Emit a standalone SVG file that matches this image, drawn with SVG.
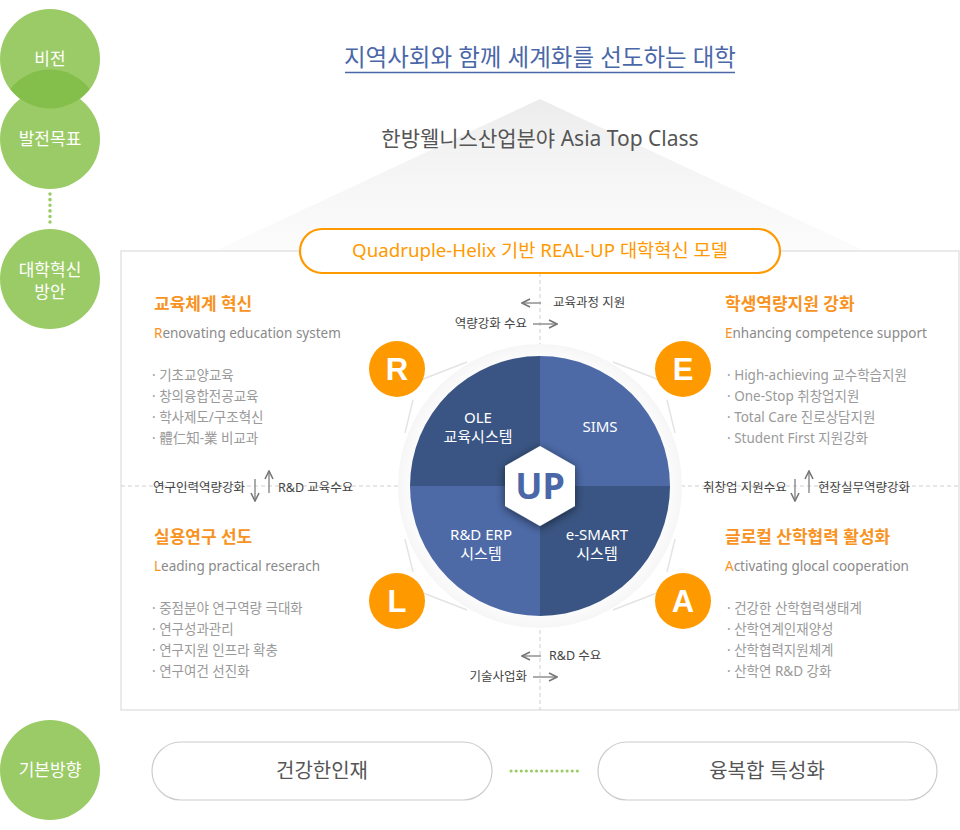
<svg xmlns="http://www.w3.org/2000/svg" width="960" height="830" viewBox="0 0 960 830">
<defs>
<linearGradient id="tri" x1="0" y1="0" x2="0" y2="1">
<stop offset="0" stop-color="#ececec"/>
<stop offset="1" stop-color="#f8f8f8" stop-opacity="0.5"/>
</linearGradient>
<radialGradient id="halo" cx="0.5" cy="0.5" r="0.5">
<stop offset="0.85" stop-color="#ffffff"/>
<stop offset="1" stop-color="#f6f6f6"/>
</radialGradient>
<filter id="sh" x="-50%" y="-50%" width="200%" height="200%">
<feDropShadow dx="0" dy="2" stdDeviation="5" flood-color="#000" flood-opacity="0.55"/>
</filter>
<marker id="ah" viewBox="0 0 10 10" refX="9" refY="5" markerWidth="10" markerHeight="10" markerUnits="userSpaceOnUse" orient="auto">
<path d="M1,1 L9,5 L1,9" fill="none" stroke="#777" stroke-width="1.6"/>
</marker>
</defs>
<style>
text{font-family:"Noto Sans","Noto Sans CJK KR",sans-serif;}
.gc{fill:#9bcb66;}
.gt{fill:#fff;font-size:17px;text-anchor:middle;}
.hd{fill:#f7931e;font-size:17px;font-weight:bold;}
.en{fill:#8a8a8a;font-size:13.5px;}
.or{fill:#f7931e;}
.bl{fill:#9a9a9a;font-size:13.5px;}
.lb{fill:#444;font-size:12.5px;}
.arr{stroke:#888;stroke-width:1.4;fill:none;marker-end:url(#ah);}
.dash{stroke:#cfcfcf;stroke-width:1;stroke-dasharray:4 3;fill:none;}
.qt{fill:#fff;font-size:15px;text-anchor:middle;}
.oc{fill:#ff9900;}
.ol{fill:#fff;font-size:31px;font-weight:bold;text-anchor:middle;font-family:"Liberation Sans","Noto Sans",sans-serif;}
.brk{stroke:#e4e4e4;stroke-width:1.5;fill:none;}
.pill{fill:#fff;stroke:#cccccc;stroke-width:1.2;}
.pt{fill:#555;font-size:20px;text-anchor:middle;}
</style>

<!-- background triangle -->
<polygon points="540,99 215,251 865,251" fill="url(#tri)"/>

<!-- left level circles -->
<g id="level-vision">
<circle class="gc" cx="50" cy="59" r="50"/>
</g>
<g id="level-goal">
<circle class="gc" cx="50" cy="139" r="50"/>
</g>
<path d="M10.4,89 A50,50 0 0 1 89.6,89 A50,50 0 0 1 10.4,89 Z" fill="#85bf4b"/>
<text class="gt" x="50" y="65">비전</text>
<text class="gt" x="50" y="145">발전목표</text>
<line x1="50" y1="194" x2="50" y2="225" stroke="#9bcb66" stroke-width="3.5" stroke-linecap="round" stroke-dasharray="0.1 5.5"/>
<g id="level-plan">
<circle class="gc" cx="50" cy="279" r="50"/>
<text class="gt" x="50" y="276">대학혁신</text>
<text class="gt" x="50" y="298">방안</text>
</g>
<g id="level-direction">
<circle class="gc" cx="50" cy="770" r="50"/>
<text class="gt" x="50" y="776">기본방향</text>
</g>

<!-- title -->
<g id="vision">
<text x="540" y="66" text-anchor="middle" fill="#4a68a8" font-size="23.5">지역사회와 함께 세계화를 선도하는 대학</text>
<line x1="345" y1="72.5" x2="735" y2="72.5" stroke="#4a68a8" stroke-width="1.3"/>
</g>
<g id="goal">
<text x="540" y="146" text-anchor="middle" fill="#555" font-size="21">한방웰니스산업분야 Asia Top Class</text>
</g>

<!-- main box -->
<rect x="121" y="251" width="838" height="459" fill="#fff" stroke="#dcdcdc" stroke-width="1.2"/>

<g id="connectors">
<line class="dash" x1="540" y1="273" x2="540" y2="710"/>
<line class="dash" x1="121" y1="486" x2="959" y2="486"/>
<line class="arr" x1="541" y1="303" x2="522" y2="303"/>
<line class="arr" x1="533" y1="324" x2="557" y2="324"/>
<line class="arr" x1="541" y1="656" x2="522" y2="656"/>
<line class="arr" x1="533" y1="677" x2="557" y2="677"/>
<line class="arr" x1="255" y1="479" x2="255" y2="501"/>
<line class="arr" x1="269" y1="493" x2="269" y2="471"/>
<line class="arr" x1="795" y1="479" x2="795" y2="501"/>
<line class="arr" x1="809" y1="493" x2="809" y2="471"/>
<line x1="511" y1="771" x2="578" y2="771" stroke="#9bcb66" stroke-width="3" stroke-linecap="round" stroke-dasharray="0.1 5"/>
</g>

<!-- model pill -->
<g id="model">
<rect x="300" y="229" width="480" height="44" rx="22" fill="#fff" stroke="#ff9900" stroke-width="2.2"/>
<text x="540" y="257" text-anchor="middle" fill="#ff9900" font-size="18.7">Quadruple-Helix 기반 REAL-UP 대학혁신 모델</text>
</g>

<!-- arrow labels -->
<text class="lb" x="553" y="307">교육과정 지원</text>
<text class="lb" x="527" y="328" text-anchor="end">역량강화 수요</text>
<text class="lb" x="549" y="660">R&amp;D 수요</text>
<text class="lb" x="527" y="681" text-anchor="end">기술사업화</text>
<text class="lb" x="153" y="492">연구인력역량강화</text>
<text class="lb" x="278" y="492">R&amp;D 교육수요</text>
<text class="lb" x="703" y="492">취창업 지원수요</text>
<text class="lb" x="818" y="492">현장실무역량강화</text>

<!-- halo brackets -->
<circle cx="540" cy="486" r="142" fill="url(#halo)"/>
<polyline class="brk" points="467,362 418,381"/>
<polyline class="brk" points="413,400 405,433"/>
<polyline class="brk" points="613,362 662,381"/>
<polyline class="brk" points="667,400 675,433"/>
<polyline class="brk" points="405,539 413,572"/>
<polyline class="brk" points="418,591 467,610"/>
<polyline class="brk" points="675,539 667,572"/>
<polyline class="brk" points="662,591 613,610"/>

<!-- core circle -->
<g id="core">
<path d="M540,486 L540,356 A130,130 0 0 0 410,486 Z" fill="#3a5583"/>
<path d="M540,486 L670,486 A130,130 0 0 0 540,356 Z" fill="#4d6aa7"/>
<path d="M540,486 L410,486 A130,130 0 0 0 540,616 Z" fill="#4d6aa7"/>
<path d="M540,486 L540,616 A130,130 0 0 0 670,486 Z" fill="#3a5583"/>
<text class="qt" x="478" y="423">OLE</text>
<text class="qt" x="478" y="442">교육시스템</text>
<text class="qt" x="600" y="432">SIMS</text>
<text class="qt" x="481" y="540">R&amp;D ERP</text>
<text class="qt" x="481" y="559">시스템</text>
<text class="qt" x="597" y="540">e-SMART</text>
<text class="qt" x="597" y="559">시스템</text>
</g>
<g id="up">
<polygon points="540,446 575,466 575,506 540,526 505,506 505,466" fill="#fff" filter="url(#sh)"/>
<text x="540" y="499" text-anchor="middle" fill="#4a68a8" font-size="36" font-weight="bold" font-family="Liberation Sans, Noto Sans, sans-serif">UP</text>
</g>

<!-- R E L A -->
<g id="node-R"><circle class="oc" cx="397" cy="369" r="28"/><text class="ol" x="397" y="380">R</text></g>
<g id="node-E"><circle class="oc" cx="683" cy="369" r="28"/><text class="ol" x="683" y="380">E</text></g>
<g id="node-L"><circle class="oc" cx="397" cy="601" r="28"/><text class="ol" x="397" y="612">L</text></g>
<g id="node-A"><circle class="oc" cx="683" cy="601" r="28"/><text class="ol" x="683" y="612">A</text></g>

<!-- quadrant texts -->
<g id="block-R">
<text class="hd" x="154" y="310">교육체계 혁신</text>
<text class="en" x="154" y="338"><tspan class="or">R</tspan>enovating education system</text>
<text class="bl" x="152" y="380">· 기초교양교육</text>
<text class="bl" x="152" y="401">· 창의융합전공교육</text>
<text class="bl" x="152" y="422">· 학사제도/구조혁신</text>
<text class="bl" x="152" y="443">· 體仁知-業 비교과</text>
</g>
<g id="block-E">
<text class="hd" x="725" y="310">학생역량지원 강화</text>
<text class="en" x="725" y="338"><tspan class="or">E</tspan>nhancing competence support</text>
<text class="bl" x="727" y="380">· High-achieving 교수학습지원</text>
<text class="bl" x="727" y="401">· One-Stop 취창업지원</text>
<text class="bl" x="727" y="422">· Total Care 진로상담지원</text>
<text class="bl" x="727" y="443">· Student First 지원강화</text>
</g>
<g id="block-L">
<text class="hd" x="154" y="543">실용연구 선도</text>
<text class="en" x="154" y="571"><tspan class="or">L</tspan>eading practical reserach</text>
<text class="bl" x="152" y="613">· 중점분야 연구역량 극대화</text>
<text class="bl" x="152" y="634">· 연구성과관리</text>
<text class="bl" x="152" y="655">· 연구지원 인프라 확충</text>
<text class="bl" x="152" y="676">· 연구여건 선진화</text>
</g>
<g id="block-A">
<text class="hd" x="725" y="543">글로컬 산학협력 활성화</text>
<text class="en" x="725" y="571"><tspan class="or">A</tspan>ctivating glocal cooperation</text>
<text class="bl" x="727" y="613">· 건강한 산학협력생태계</text>
<text class="bl" x="727" y="634">· 산학연계인재양성</text>
<text class="bl" x="727" y="655">· 산학협력지원체계</text>
<text class="bl" x="727" y="676">· 산학연 R&amp;D 강화</text>
</g>

<!-- bottom pills -->
<g id="dir-1">
<rect class="pill" x="152" y="742" width="340" height="58" rx="29"/>
<text class="pt" x="322" y="778">건강한인재</text>
</g>
<g id="dir-2">
<rect class="pill" x="598" y="742" width="339" height="58" rx="29"/>
<text class="pt" x="767" y="778">융복합 특성화</text>
</g>
</svg>
